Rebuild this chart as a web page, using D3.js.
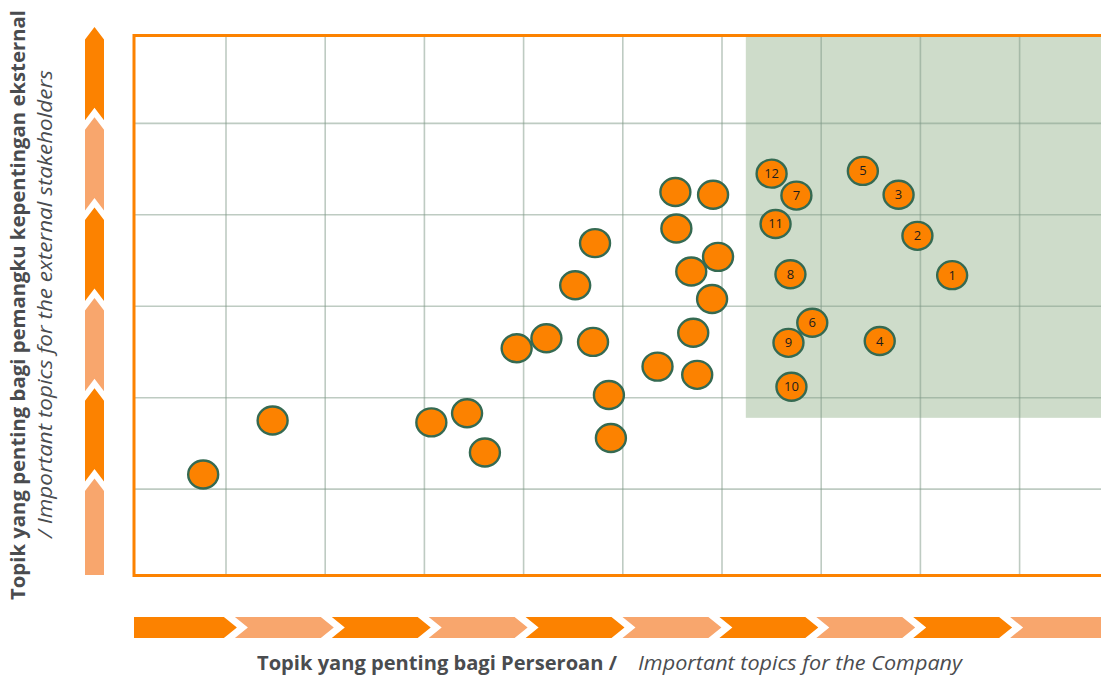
<!DOCTYPE html>
<html>
<head>
<meta charset="utf-8">
<script src="https://cdn.jsdelivr.net/npm/d3@7"></script>
<style>
  body { margin: 0; background: #fff; }
  svg { display: block; font-family: "Open Sans", sans-serif; }
</style>
</head>
<body>
<svg id="matrix" width="1101" height="677"></svg>
<script>

// numbered topics: importance for the company (x) and for stakeholders (y)
const topicNumbers = [1, 2, 3, 4, 5, 6, 8, 9, 10, 11, 12, 7]
const topicCompany = [8.32, 7.97, 7.78, 7.59, 7.42, 6.91, 6.69, 6.67, 6.70, 6.54, 6.50, 6.75]
const topicStakeholder = [3.34, 3.77, 4.22, 2.62, 4.48, 2.82, 3.35, 2.60, 2.12, 3.90, 4.45, 4.21]

// other topics (no number)
const otherCompany = [0.77, 1.47, 3.07, 3.43, 3.61, 3.93, 4.23, 4.52, 4.72, 4.70, 4.86, 4.88,
    5.35, 5.53, 5.91, 5.54, 5.69, 5.96, 5.90, 5.71, 5.75]
const otherStakeholder = [1.16, 1.75, 1.73, 1.83, 1.40, 2.54, 2.65, 3.23, 3.69, 2.61, 2.03, 1.56,
    2.34, 4.25, 4.22, 3.85, 3.38, 3.54, 3.08, 2.71, 2.25]

// highlighted zone, top right
const focusCompany = [6.24, 10]
const focusStakeholder = [1.78, 6]

// grid lines
const gridCompany = [1, 2, 3, 4, 5, 6, 7, 8, 9]
const gridStakeholder = [1, 2, 3, 4, 5]

const titleX = ['Topik yang penting bagi Perseroan /', 'Important topics for the Company']
const titleY = ['Topik yang penting bagi pemangku kepentingan eksternal', '/ Important topics for the external stakeholders']


const width = 1101
const height = 677

// plot box (orange frame on left, top and bottom)
const plot = { left: 134, right: 1101, top: 35.5, bottom: 575.5 }

const orange = '#fc8200'
const lightOrange = '#f8a66d'
const textGrey = '#4a4c4f'

const xScale = d3.scaleLinear()
    .domain([0, 10])
    .range([126.8, 1118.8])

const yScale = d3.scaleLinear()
    .domain([0, 6])
    .range([580.6, 31.9])

const svg = d3.select('#matrix')

svg.append('clipPath')
    .attr('id', 'plotClip')
    .append('rect')
    .attr('x', plot.left)
    .attr('y', plot.top)
    .attr('width', plot.right - plot.left)
    .attr('height', plot.bottom - plot.top)

const g = svg.append('g').attr('clip-path', 'url(#plotClip)')

// green focus area
g.append('rect')
    .attr('x', xScale(focusCompany[0]))
    .attr('y', yScale(focusStakeholder[1]))
    .attr('width', xScale(focusCompany[1]) - xScale(focusCompany[0]))
    .attr('height', yScale(focusStakeholder[0]) - yScale(focusStakeholder[1]))
    .attr('fill', '#cedcca')

// grid
g.selectAll('.vgrid')
    .data(gridCompany)
    .enter()
    .append('line')
    .attr('class', 'vgrid')
    .attr('x1', d => xScale(d))
    .attr('x2', d => xScale(d))
    .attr('y1', plot.top)
    .attr('y2', plot.bottom)

g.selectAll('.hgrid')
    .data(gridStakeholder)
    .enter()
    .append('line')
    .attr('class', 'hgrid')
    .attr('x1', plot.left)
    .attr('x2', plot.right)
    .attr('y1', d => yScale(d))
    .attr('y2', d => yScale(d))

g.selectAll('.vgrid, .hgrid')
    .attr('stroke', '#7d9786')
    .attr('stroke-opacity', 0.5)
    .attr('stroke-width', 1.6)

// orange frame
svg.append('path')
    .attr('d', d3.line()([[plot.right, plot.top], [plot.left, plot.top], [plot.left, plot.bottom], [plot.right, plot.bottom]]))
    .attr('fill', 'none')
    .attr('stroke', orange)
    .attr('stroke-width', 3)


// topics
const others = otherCompany.map((c, i) => ({ x: c, y: otherStakeholder[i] }))
const topics = topicNumbers.map((n, i) => ({ n: n, x: topicCompany[i], y: topicStakeholder[i] }))

function drawDots(sel) {
    sel.append('ellipse')
        .attr('cx', d => xScale(d.x))
        .attr('cy', d => yScale(d.y))
        .attr('rx', 15)
        .attr('ry', 14)
        .attr('fill', orange)
        .attr('stroke', '#356a52')
        .attr('stroke-width', 2.4)
}

svg.append('g').selectAll('g')
    .data(others)
    .enter()
    .append('g')
    .call(drawDots)

const topicG = svg.append('g').selectAll('g')
    .data(topics)
    .enter()
    .append('g')

topicG.call(drawDots)

topicG.append('text')
    .attr('x', d => xScale(d.x))
    .attr('y', d => yScale(d.y) + 4.5)
    .attr('text-anchor', 'middle')
    .attr('font-size', 13)
    .attr('fill', '#1d1d1d')
    .text(d => d.n)


// chevron arrows along the axes
// u runs along the arrow, v across it; returns points in that frame
function chevron(a, b, v0, v1, d, notch, point) {
    const m = (v0 + v1) / 2
    const pts = [[a, v0], [point ? b - d : b, v0]]
    if (point) pts.push([b, m])
    pts.push([point ? b - d : b, v1], [a, v1])
    if (notch) pts.push([a + d, m])
    return pts
}

// horizontal arrow, 10 pieces
const hStarts = d3.range(10).map(i => i === 0 ? plot.left : 138 + i * 96.9)
hStarts.forEach((a, i) => {
    const last = i === 9
    const b = last ? plot.right : hStarts[i + 1] + 2
    const pts = chevron(a, b, 617, 638, 13, i > 0, !last)
    svg.append('path')
        .attr('d', d3.line()(pts) + 'Z')
        .attr('fill', i % 2 === 0 ? orange : lightOrange)
})

// vertical arrow, 6 pieces pointing up
const vTips = d3.range(6).map(i => 27 + i * 90.3)
vTips.forEach((t, i) => {
    const last = i === 5
    const bottom = last ? 575 : vTips[i + 1] + 3
    // measure u upward from bottom edge
    const pts = chevron(0, bottom - t, 85, 104, 12.5, !last, true)
        .map(p => [p[1], bottom - p[0]])
    svg.append('path')
        .attr('d', d3.line()(pts) + 'Z')
        .attr('fill', i % 2 === 0 ? orange : lightOrange)
})


// axis titles
svg.append('text')
    .attr('x', 257)
    .attr('y', 670)
    .attr('font-size', 19)
    .attr('font-weight', 'bold')
    .attr('fill', textGrey)
    .attr('textLength', 360)
    .attr('lengthAdjust', 'spacingAndGlyphs')
    .text(titleX[0])

svg.append('text')
    .attr('x', 638)
    .attr('y', 670)
    .attr('font-size', 20)
    .attr('font-style', 'italic')
    .attr('fill', textGrey)
    .attr('textLength', 324)
    .attr('lengthAdjust', 'spacingAndGlyphs')
    .text(titleX[1])

svg.append('text')
    .attr('transform', 'translate(25,305) rotate(-90)')
    .attr('text-anchor', 'middle')
    .attr('font-size', 19)
    .attr('font-weight', 'bold')
    .attr('fill', textGrey)
    .attr('textLength', 590)
    .attr('lengthAdjust', 'spacingAndGlyphs')
    .text(titleY[0])

svg.append('text')
    .attr('transform', 'translate(52,304) rotate(-90)')
    .attr('text-anchor', 'middle')
    .attr('font-size', 20)
    .attr('font-style', 'italic')
    .attr('fill', textGrey)
    .attr('textLength', 468)
    .attr('lengthAdjust', 'spacingAndGlyphs')
    .text(titleY[1])

</script>
</body>
</html>
